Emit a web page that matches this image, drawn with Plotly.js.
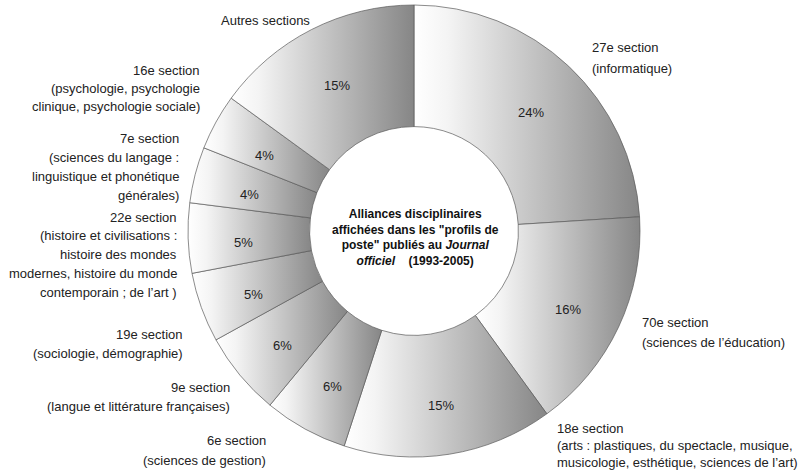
<!DOCTYPE html>
<html>
<head>
<meta charset="utf-8">
<script src="https://cdn.plot.ly/plotly-3.0.1.min.js"></script>
<style>
html,body{margin:0;padding:0;background:#fff;}
#chart{width:798px;height:472px;}
</style>
</head>
<body>
<div id="chart"></div>
<script>
// ---- data ----
var sections = ["27e section", "70e section", "18e section", "6e section", "9e section",
                "19e section", "22e section", "7e section", "16e section", "Autres sections"];
var shares = [24, 16, 15, 6, 6, 5, 5, 4, 4, 15];
var labelTexts = [
  "27e section<br>(informatique)",
  "70e section<br>(sciences de l’éducation)",
  "18e section<br>(arts : plastiques, du spectacle, musique,<br>musicologie, esthétique, sciences de l’art)",
  "6e section<br>(sciences de gestion)",
  "9e section<br>(langue et littérature françaises)",
  "19e section<br>(sociologie, démographie)",
  "22e section<br>(histoire et civilisations :<br>histoire des mondes<br>modernes, histoire du monde<br>contemporain ; de l’art )",
  "7e section<br>(sciences du langage :<br>linguistique et phonétique<br>générales)",
  "16e section<br>(psychologie, psychologie<br>clinique, psychologie sociale)",
  "Autres sections"
];
var centerTitle = "Alliances disciplinaires<br>affichées dans les \"profils de<br>poste\" publiés au <i>Journal</i><br><i>officiel</i>    (1993-2005)";

// ---- layout helpers ----
var W = 798, H = 472;
var FONT = "Liberation Sans, Arial, sans-serif";
// anchor x (px), first line y (px), line spacing, alignment
var labelPos = [
  {x: 590, y: 48,  dy: 20,   a: "left"},
  {x: 640, y: 322, dy: 20,   a: "left"},
  {x: 555, y: 428, dy: 17,   a: "left"},
  {x: 268, y: 440, dy: 20,   a: "right"},
  {x: 232, y: 387, dy: 19,   a: "right"},
  {x: 185, y: 334, dy: 19,   a: "right"},
  {x: 179, y: 217, dy: 18.8, a: "right"},
  {x: 181, y: 138, dy: 19,   a: "right"},
  {x: 202, y: 70,  dy: 18.5, a: "right"},
  {x: 219, y: 21,  dy: 18,   a: "left"}
];

var annotations = [];
labelTexts.forEach(function(t, i){
  var p = labelPos[i];
  t.split("<br>").forEach(function(line, k){
    annotations.push({
      xref: "paper", yref: "paper",
      x: p.x / W, y: 1 - (p.y + k * p.dy) / H,
      xanchor: p.a, yanchor: "middle",
      text: line, showarrow: false,
      font: {family: FONT, size: 13, color: "#222"}
    });
  });
});
annotations.push({
  xref: "paper", yref: "paper",
  x: 415 / W, y: 1 - 237 / H,
  xanchor: "center", yanchor: "middle",
  text: centerTitle, showarrow: false, align: "center",
  font: {family: FONT, size: 12, color: "#111", weight: "bold"}
});

var cx = 414, cy = 231, R = 226, HOLE = 0.462;

// percentage labels placed at the middle of each ring segment (angles from the data)
var total = shares.reduce(function(a, b){ return a + b; }, 0);
var cum = 0, rText = R * (1 + HOLE) / 2 + 5;
shares.forEach(function(v){
  var mid = (cum + v / 2) / total * 2 * Math.PI;
  cum += v;
  annotations.push({
    xref: "paper", yref: "paper",
    x: (cx + rText * Math.sin(mid)) / W,
    y: 1 - (cy - rText * Math.cos(mid) + 6) / H,
    xanchor: "center", yanchor: "middle",
    text: v + "%", showarrow: false,
    font: {family: FONT, size: 13, color: "#222"}
  });
});

var data = [{
  type: "pie",
  labels: sections,
  values: shares,
  sort: false,
  direction: "clockwise",
  rotation: 0,
  hole: HOLE,
  textinfo: "none",
  marker: {colors: shares.map(function(){return "#c8c8c8";}), line: {color: "#5a5a5a", width: 0.7}},
  domain: {x: [(cx - R) / W, (cx + R) / W], y: [1 - (cy + R) / H, 1 - (cy - R) / H]},
  showlegend: false,
  hoverinfo: "none"
}];

var layout = {
  width: W, height: H,
  margin: {l: 0, r: 0, t: 0, b: 0},
  paper_bgcolor: "#fff",
  showlegend: false,
  annotations: annotations
};

Plotly.newPlot("chart", data, layout, {staticPlot: true, displayModeBar: false}).then(function(gd){
  var NS = "http://www.w3.org/2000/svg";
  var svg = gd.querySelector("svg.main-svg");
  var defs = svg.querySelector("defs");
  if (!defs) { defs = document.createElementNS(NS, "defs"); svg.insertBefore(defs, svg.firstChild); }
  var lg = document.createElementNS(NS, "linearGradient");
  lg.setAttribute("id", "sliceGrad");
  lg.setAttribute("x1", "0"); lg.setAttribute("y1", "0");
  lg.setAttribute("x2", "1"); lg.setAttribute("y2", "0");
  [["0", "#ffffff"], ["0.15", "#f4f4f4"], ["1", "#868686"]].forEach(function(s){
    var st = document.createElementNS(NS, "stop");
    st.setAttribute("offset", s[0]); st.setAttribute("stop-color", s[1]);
    lg.appendChild(st);
  });
  defs.appendChild(lg);
  gd.querySelectorAll("g.slice path.surface").forEach(function(p){
    p.style.fill = "url(#sliceGrad)";
  });
});
</script>
</body>
</html>
